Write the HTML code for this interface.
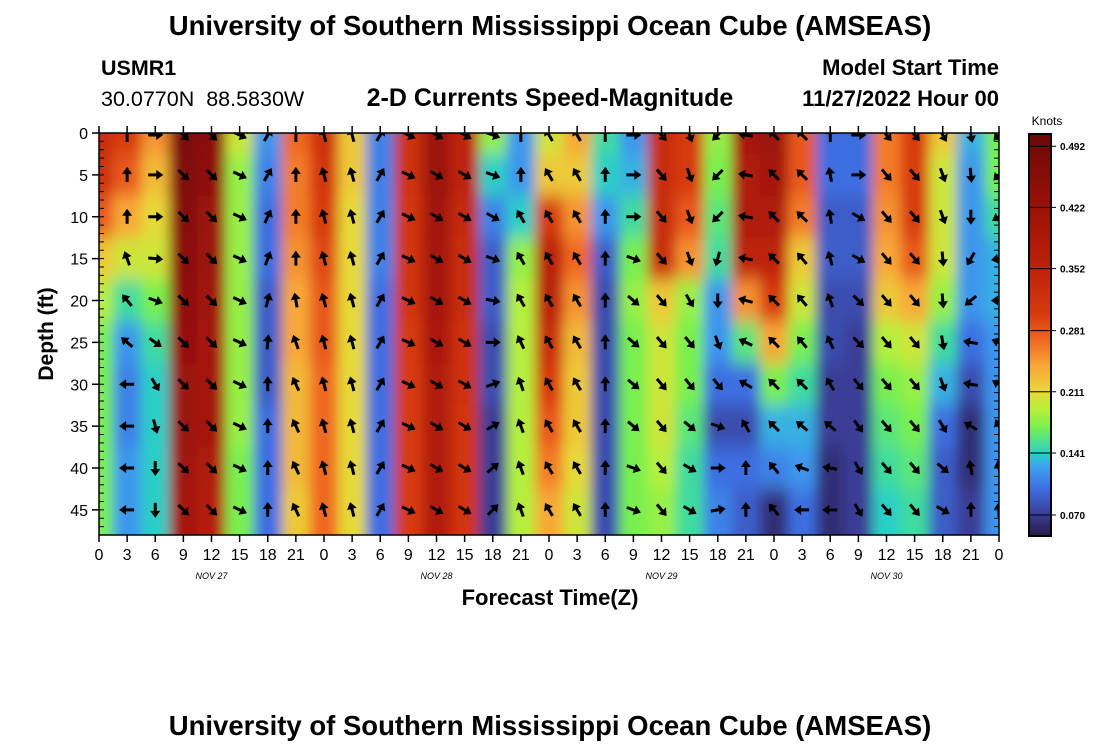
<!DOCTYPE html>
<html><head><meta charset="utf-8">
<style>
body{margin:0;background:#fff;}
svg text{font-family:"Liberation Sans",sans-serif;}
</style></head>
<body>
<svg id="chart" width="1100" height="750" viewBox="0 0 1100 750" xmlns="http://www.w3.org/2000/svg">
<defs>
<clipPath id="plotclip"><rect x="99" y="133" width="900" height="402"/></clipPath>
<filter id="blur" x="-10%" y="-10%" width="120%" height="120%"><feGaussianBlur stdDeviation="6 9"/></filter>
<linearGradient id="cbgrad" x1="0" y1="1" x2="0" y2="0"></linearGradient>
</defs>
<text x="550" y="35" text-anchor="middle" font-size="27.5" font-weight="bold">University of Southern Mississippi Ocean Cube (AMSEAS)</text>
<text x="101" y="75" font-size="21.5" font-weight="bold">USMR1</text>
<text x="101" y="106" font-size="21.5" xml:space="preserve">30.0770N  88.5830W</text>
<text x="550" y="106" text-anchor="middle" font-size="25" font-weight="bold">2-D Currents Speed-Magnitude</text>
<text x="999" y="75" text-anchor="end" font-size="22" font-weight="bold">Model Start Time</text>
<text x="999" y="106" text-anchor="end" font-size="22" font-weight="bold">11/27/2022 Hour 00</text>
<g id="heat" clip-path="url(#plotclip)"><g id="cells" filter="url(#blur)"></g></g>
<g id="arrows" clip-path="url(#plotclip)"></g>
<rect x="99" y="133" width="900" height="402" fill="none" stroke="#000" stroke-width="1.5"/>
<g id="axes"></g>
<text x="550" y="605" text-anchor="middle" font-size="22" font-weight="bold">Forecast Time(Z)</text>
<text transform="translate(53,334) rotate(-90)" text-anchor="middle" font-size="21" font-weight="bold">Depth (ft)</text>
<text x="1047" y="125" text-anchor="middle" font-size="12">Knots</text>
<rect id="cbrect" x="1029" y="134" width="22" height="402" fill="url(#cbgrad)" stroke="#000" stroke-width="2"/>
<g id="cbticks"></g>
<text x="550" y="735" text-anchor="middle" font-size="27.5" font-weight="bold">University of Southern Mississippi Ocean Cube (AMSEAS)</text>
</svg>
<script>
const hours = [0,3,6,9,12,15,18,21,24,27,30,33,36,39,42,45,48,51,54,57,60,63,66,69,72,75,78,81,84,87,90,93,96];
const depths = [0,5,10,15,20,25,30,35,40,45];
const speeds = [
[.33,.32,.28,.22,.19,.17,.17,.17,.17,.17],
[.30,.28,.24,.20,.15,.12,.11,.11,.12,.12],
[.25,.23,.21,.20,.17,.15,.14,.14,.14,.14],
[.48,.47,.46,.45,.44,.43,.42,.42,.41,.40],
[.45,.44,.42,.42,.41,.40,.40,.40,.38,.37],
[.20,.18,.18,.18,.18,.18,.18,.18,.17,.17],
[.12,.11,.10,.10,.09,.09,.09,.10,.10,.10],
[.27,.26,.26,.25,.24,.24,.23,.23,.23,.22],
[.32,.31,.30,.29,.28,.28,.27,.27,.27,.27],
[.22,.22,.21,.21,.21,.21,.21,.21,.21,.21],
[.11,.11,.11,.11,.10,.10,.10,.10,.10,.10],
[.32,.32,.31,.31,.31,.30,.30,.30,.30,.30],
[.42,.42,.41,.40,.40,.39,.38,.38,.38,.38],
[.35,.35,.34,.33,.33,.32,.32,.31,.31,.31],
[.18,.14,.11,.09,.09,.08,.08,.07,.07,.07],
[.12,.12,.14,.18,.19,.19,.19,.19,.19,.19],
[.20,.22,.30,.36,.36,.33,.30,.28,.26,.24],
[.24,.22,.25,.27,.25,.23,.22,.22,.21,.20],
[.15,.14,.12,.09,.08,.08,.08,.08,.08,.08],
[.12,.13,.15,.17,.18,.17,.17,.17,.17,.17],
[.33,.33,.33,.33,.22,.20,.20,.20,.19,.18],
[.30,.30,.28,.25,.18,.17,.17,.16,.15,.15],
[.18,.17,.16,.15,.12,.12,.10,.08,.10,.11],
[.40,.38,.38,.35,.25,.16,.10,.08,.10,.09],
[.42,.40,.38,.35,.30,.24,.17,.13,.11,.06],
[.28,.28,.26,.22,.20,.17,.15,.13,.12,.10],
[.10,.10,.09,.09,.08,.08,.07,.07,.06,.06],
[.10,.10,.09,.09,.08,.07,.07,.07,.07,.07],
[.26,.26,.25,.24,.22,.19,.17,.16,.15,.14],
[.30,.30,.30,.28,.24,.20,.18,.17,.16,.15],
[.22,.20,.20,.20,.18,.15,.13,.10,.09,.09],
[.13,.12,.12,.12,.12,.10,.08,.06,.06,.07],
[.17,.17,.15,.13,.13,.12,.12,.12,.12,.12]
];
const arrowHours = [3,6,9,12,15,18,21,24,27,30,33,36,39,42,45,48,51,54,57,60,63,66,69,72,75,78,81,84,87,90,93,96];
const arrowDirs = [
[0,0,0,-20,-40,-50,-90,-90,-90,-90],
[90,90,90,95,110,125,150,165,180,180],
[135,135,135,135,135,135,135,135,135,135],
[135,135,135,135,135,135,135,135,135,135],
[115,115,115,115,115,115,115,115,115,115],
[30,30,25,20,15,5,0,0,0,0],
[0,0,0,0,-10,-20,-25,-25,-25,-25],
[-15,-15,-15,-15,-15,-15,-15,-15,-15,-15],
[-15,-15,-15,-15,-15,-15,-15,-15,-15,-15],
[30,30,30,30,30,30,30,30,30,30],
[115,115,115,115,115,115,115,115,115,115],
[120,120,120,120,120,120,120,120,120,120],
[120,120,120,120,120,120,120,120,120,120],
[110,110,120,110,100,90,70,60,50,45],
[0,0,-30,-30,-30,-25,-20,-20,-20,-20],
[-30,-30,-30,-30,-30,-30,-30,-30,-30,-30],
[-30,-30,-30,-30,-30,-30,-30,-30,-30,-30],
[0,0,0,0,0,0,0,0,0,0],
[90,90,90,110,130,130,130,130,110,110],
[140,140,140,140,140,140,140,140,140,140],
[160,160,160,160,150,140,140,130,120,120],
[225,225,225,195,180,160,140,110,90,80],
[-80,-80,-80,-80,-75,-65,-60,-30,0,0],
[-45,-45,-45,-45,-45,-45,-45,-45,-40,-40],
[-45,-45,-45,-40,-40,-40,-45,-50,-70,-90],
[0,-10,-10,-15,-20,-25,-30,-50,-80,-90],
[90,90,120,120,135,135,140,145,150,150],
[140,140,140,140,140,140,140,140,140,140],
[140,140,140,140,140,140,140,140,140,140],
[150,160,160,175,175,170,160,150,130,120],
[170,175,180,210,230,-80,-80,-60,-10,0],
[225,225,-120,-100,-90,-70,-60,-30,-10,0]
];
const xTickLabels = ["0","3","6","9","12","15","18","21","0","3","6","9","12","15","18","21","0","3","6","9","12","15","18","21","0","3","6","9","12","15","18","21","0"];
const yTickLabels = ["0","5","10","15","20","25","30","35","40","45"];
const dayLabels = ["NOV 27","NOV 28","NOV 29","NOV 30"];
const dayHours = [12,36,60,84];
const cbValues = [0.492,0.422,0.352,0.281,0.211,0.141,0.070];

const NS = "http://www.w3.org/2000/svg";
const X = h => 99 + h * 900 / 96;
const Y = d => 133 + d * 402 / 48;
const VMIN = 0.046, VMAX = 0.506;
const CBY = v => 536 - (v - VMIN) / (VMAX - VMIN) * 402;
const stops = [[0.046,[40,24,70]],[0.07,[58,60,150]],[0.10,[62,110,225]],[0.125,[62,160,240]],[0.141,[40,210,195]],[0.17,[120,240,80]],[0.19,[180,240,60]],[0.211,[232,216,56]],[0.24,[248,168,56]],[0.27,[240,104,32]],[0.30,[215,58,16]],[0.36,[185,32,8]],[0.43,[150,16,8]],[0.506,[110,8,8]]];
function color(v){
  if(v<=stops[0][0]) return `rgb(${stops[0][1]})`;
  for(let i=1;i<stops.length;i++){
    if(v<=stops[i][0]){
      const a=stops[i-1],b=stops[i],t=(v-a[0])/(b[0]-a[0]);
      const c=a[1].map((x,k)=>Math.round(x+(b[1][k]-x)*t));
      return `rgb(${c})`;
    }
  }
  return `rgb(${stops[stops.length-1][1]})`;
}
function mk(tag, attrs, parent){
  const e=document.createElementNS(NS,tag);
  for(const k in attrs) e.setAttribute(k,attrs[k]);
  parent.appendChild(e); return e;
}
const grad=document.getElementById('cbgrad');
stops.forEach(s=>{mk('stop',{offset:((s[0]-VMIN)/(VMAX-VMIN)),'stop-color':color(s[0])},grad);});
const cells=document.getElementById('cells');
hours.forEach((h,i)=>{
  let x0 = X(h-1.5), x1 = X(h+1.5);
  if(i===0) x0 = X(h)-40;
  if(i===hours.length-1) x1 = X(h)+40;
  depths.forEach((d,j)=>{
    let y0 = Y(d-2.5), y1 = Y(d+2.5);
    if(j===0) y0 = Y(d)-40;
    if(j===depths.length-1) y1 = Y(48)+40;
    const r=mk('rect',{x:x0,y:y0,width:x1-x0+0.5,height:y1-y0+0.5,fill:color(speeds[i][j])},cells);
    
    
  });
});
const ag=document.getElementById('arrows');
arrowHours.forEach((h,i)=>{
  depths.forEach((d,j)=>{
    const cx=X(h), cy=Y(d)+(j===0?2:0);
    const g=mk('g',{transform:`translate(${cx},${cy}) rotate(${arrowDirs[i][j]})`},ag);
    
    
    mk('line',{x1:0,y1:7,x2:0,y2:-3,stroke:'#000','stroke-width':3},g);
    mk('polygon',{points:'0,-8 -5,-1 5,-1',fill:'#000'},g);
  });
});
const ax=document.getElementById('axes');
xTickLabels.forEach((lab,i)=>{
  const h=i*3, x=X(h);
  mk('line',{x1:x,y1:126,x2:x,y2:133,stroke:'#000','stroke-width':1.5},ax);
  mk('line',{x1:x,y1:535,x2:x,y2:542,stroke:'#000','stroke-width':1.5},ax);
  const t=mk('text',{x:x,y:560,'text-anchor':'middle','font-size':16},ax);
  t.textContent=lab;
  
  
});
dayLabels.forEach((lab,i)=>{
  const t=mk('text',{x:X(dayHours[i]),y:579,'text-anchor':'middle','font-size':9,'font-style':'italic','font-family':'Liberation Mono, monospace'},ax);
  t.textContent=lab;
  
  
});
for(let d=0; d<=48; d++){
  const y=Y(d);
  mk('line',{x1:99,y1:y,x2:104,y2:y,stroke:'#000','stroke-width':1},ax);
  mk('line',{x1:994,y1:y,x2:999,y2:y,stroke:'#000','stroke-width':1},ax);
}
yTickLabels.forEach((lab,i)=>{
  const y=Y(depths[i]);
  mk('line',{x1:92,y1:y,x2:99,y2:y,stroke:'#000','stroke-width':1.5},ax);
  const t=mk('text',{x:88,y:y+6,'text-anchor':'end','font-size':16},ax);
  t.textContent=lab;
  
  
});
const cbt=document.getElementById('cbticks');
cbValues.forEach(v=>{
  const y=CBY(v);
  mk('line',{x1:1029,y1:y,x2:1056,y2:y,stroke:'#000','stroke-width':1},cbt);
  const t=mk('text',{x:1060,y:y+4,'font-size':10,'font-weight':'bold'},cbt);
  t.textContent=v.toFixed(3);
  
  
});
</script>
</body></html>
